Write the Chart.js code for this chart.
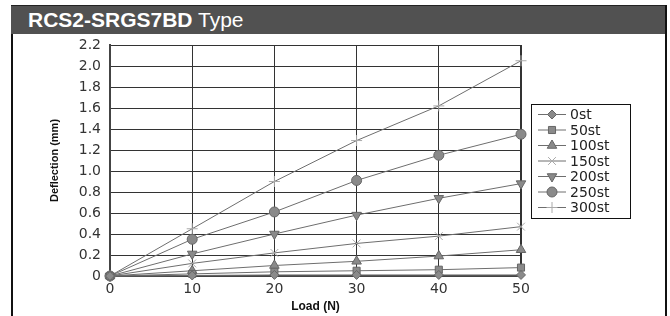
<!DOCTYPE html>
<html>
<head>
<meta charset="utf-8">
<script src="https://cdn.jsdelivr.net/npm/chart.js@4/dist/chart.umd.min.js"></script>
<style>
  body { margin: 0; background: #fff; }
  #wrap { position: relative; width: 670px; height: 316px; overflow: hidden; }
  #chart { position: absolute; left: 0; top: 0; }
  .frame { position: absolute; background: #111; }
  #titlebar {
    position: absolute; left: 11px; top: 5px; width: 654px; height: 29px;
    background: #515151; border-top: 1px solid #222; box-sizing: border-box;
    color: #fff; font-family: "Liberation Sans", Arial, sans-serif; font-size: 21px;
    line-height: 28px; padding-left: 17px; white-space: nowrap;
  }
  #titlebar b { font-weight: bold; }
</style>
</head>
<body>
<div id="wrap">
  <canvas id="chart" width="670" height="316"></canvas>
  <div id="titlebar"><b>RCS2-SRGS7BD</b> Type</div>
  <div class="frame" style="left:11px; top:34px; width:2px; height:282px;"></div>
  <div class="frame" style="left:665px; top:5px; width:2px; height:311px;"></div>
</div>
<script>
// Load (N)
const loads = [0, 10, 20, 30, 40, 50];

// Deflection (mm) per stroke
const st0   = [0, 0.005, 0.01, 0.01, 0.01, 0.01];
const st50  = [0, 0.02, 0.04, 0.05, 0.06, 0.08];
const st100 = [0, 0.05, 0.10, 0.14, 0.19, 0.25];
const st150 = [0, 0.12, 0.22, 0.31, 0.38, 0.47];
const st200 = [0, 0.21, 0.40, 0.58, 0.74, 0.88];
const st250 = [0, 0.35, 0.61, 0.91, 1.15, 1.35];
const st300 = [0, 0.45, 0.90, 1.29, 1.62, 2.05];

const seriesNames = ['0st', '50st', '100st', '150st', '200st', '250st', '300st'];
const seriesValues = [st0, st50, st100, st150, st200, st250, st300];

const yTicks = [0, 0.2, 0.4, 0.6, 0.8, 1.0, 1.2, 1.4, 1.6, 1.8, 2.0, 2.2];

const FONT = "'Liberation Sans', Arial, sans-serif";
const TICKFONT = "'DejaVu Sans', sans-serif";

// marker look for each series
const markers = [
  { style: 'rectRot',  rot: 0,   r: 4.5, fill: '#8a8a8a', line: '#666' },
  { style: 'rect',     rot: 0,   r: 5,   fill: '#8a8a8a', line: '#666' },
  { style: 'triangle', rot: 0,   r: 5.5, fill: '#8a8a8a', line: '#666' },
  { style: 'crossRot', rot: 0,   r: 5.5, fill: '#aaa',    line: '#aaa' },
  { style: 'triangle', rot: 180, r: 5.5, fill: '#8a8a8a', line: '#666' },
  { style: 'circle',   rot: 0,   r: 5,   fill: '#8a8a8a', line: '#666' },
  { style: 'cross',    rot: 0,   r: 5.5, fill: '#aaa',    line: '#aaa' },
];

const datasets = seriesNames.map((name, i) => ({
  label: name,
  data: loads.map((x, j) => ({ x: x, y: seriesValues[i][j] })),
  borderColor: '#6e6e6e',
  borderWidth: 1,
  backgroundColor: markers[i].fill,
  pointStyle: markers[i].style,
  pointRotation: markers[i].rot,
  pointRadius: markers[i].r,
  pointBorderColor: markers[i].line,
  pointBorderWidth: 1,
  pointBackgroundColor: markers[i].fill,
  tension: 0,
  clip: false,
}));

// boxed legend with line + marker, drawn inside the right margin
const boxLegend = {
  id: 'boxLegend',
  afterDraw(chart) {
    const ctx = chart.ctx;
    const x0 = 531, y0 = 104, w = 99, h = 114;
    ctx.save();
    ctx.fillStyle = '#fff';
    ctx.fillRect(x0, y0, w, h);
    ctx.strokeStyle = '#111';
    ctx.lineWidth = 1;
    ctx.strokeRect(x0 + 0.5, y0 + 0.5, w, h);
    chart.data.datasets.forEach((ds, i) => {
      const y = y0 + 10.5 + i * 15.5;
      ctx.strokeStyle = ds.borderColor;
      ctx.lineWidth = 1;
      ctx.beginPath();
      ctx.moveTo(538, y);
      ctx.lineTo(566, y);
      ctx.stroke();
      ctx.fillStyle = ds.pointBackgroundColor;
      ctx.strokeStyle = ds.pointBorderColor;
      Chart.helpers.drawPoint(ctx, {
        pointStyle: ds.pointStyle,
        rotation: ds.pointRotation,
        radius: ds.pointRadius,
        borderWidth: 1,
      }, 552, y);
      ctx.fillStyle = '#222';
      ctx.font = '14px ' + TICKFONT;
      ctx.textBaseline = 'middle';
      ctx.textAlign = 'left';
      ctx.fillText(ds.label, 570, y + 1);
    });
    ctx.restore();
  }
};

new Chart(document.getElementById('chart'), {
  type: 'line',
  data: { datasets: datasets },
  plugins: [boxLegend],
  options: {
    responsive: false,
    animation: false,
    devicePixelRatio: 1,
    layout: { padding: { top: 45, right: 149, left: 0, bottom: 0 } },
    plugins: {
      legend: { display: false },
      tooltip: { enabled: false },
    },
    scales: {
      x: {
        type: 'linear',
        min: 0,
        max: 50,
        ticks: { stepSize: 10, color: '#333', font: { family: TICKFONT, size: 14 }, padding: 5 },
        grid: { color: '#333', lineWidth: (c) => (c.tick.value === 50 ? 2 : 1), drawTicks: false },
        border: { color: '#444', width: 2 },
        title: { display: true, text: 'Load (N)', color: '#111', font: { family: FONT, size: 12, weight: 'bold' }, padding: { top: 0, bottom: 2 } },
        afterFit: (s) => { s.height = 40; },
      },
      y: {
        min: 0,
        max: 2.2,
        afterBuildTicks: (s) => { s.ticks = yTicks.map((v) => ({ value: v })); },
        ticks: {
          color: '#333',
          font: { family: TICKFONT, size: 14 },
          padding: 9,
          callback: (v) => (v === 0 ? '0' : v.toFixed(1)),
        },
        grid: { color: '#333', lineWidth: 1, drawTicks: false },
        border: { color: '#444', width: 2 },
        title: { display: true, text: 'Deflection (mm)', color: '#111', font: { family: FONT, size: 11, weight: 'bold' }, padding: { top: 48, bottom: 0 } },
        afterFit: (s) => { s.width = 110; },
      },
    },
  },
});
</script>
</body>
</html>
